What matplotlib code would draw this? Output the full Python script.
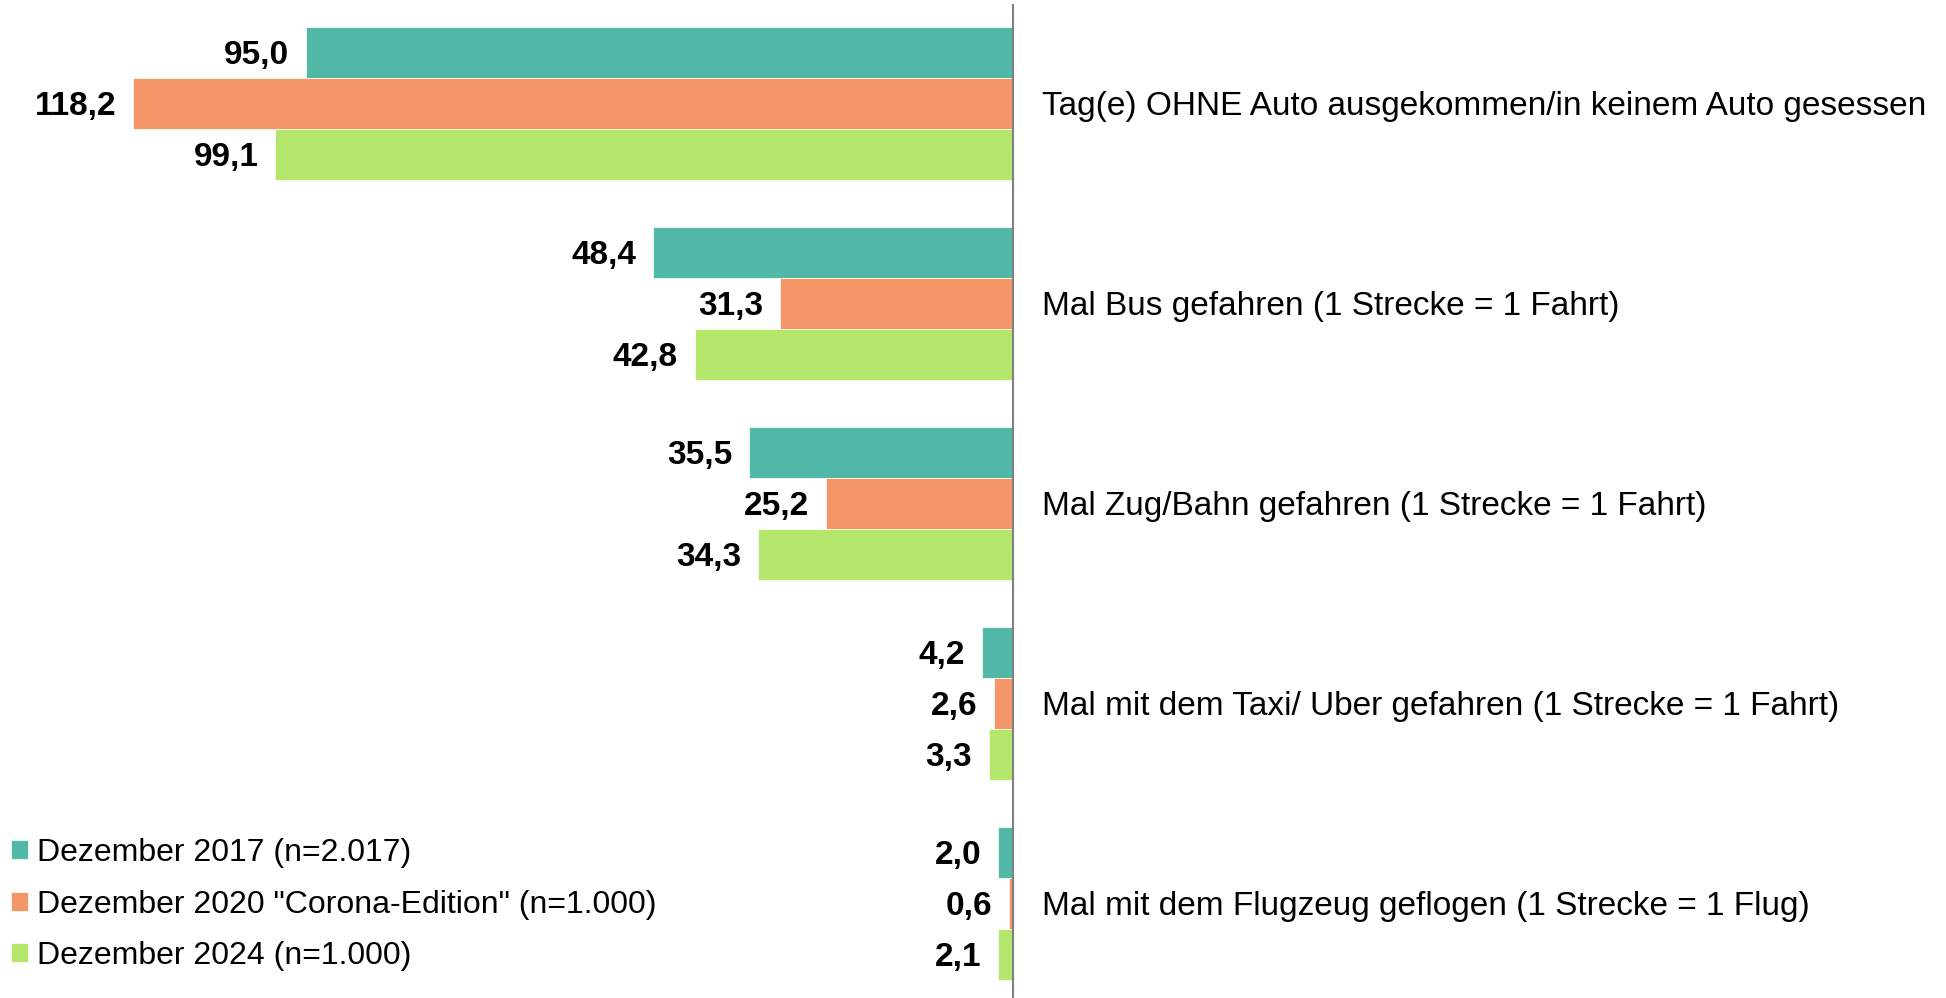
import matplotlib
matplotlib.use('Agg')
import matplotlib.pyplot as plt
import numpy as np

categories = ['Tag(e) OHNE Auto ausgekommen/in keinem Auto gesessen',
              'Mal Bus gefahren (1 Strecke = 1 Fahrt)',
              'Mal Zug/Bahn gefahren (1 Strecke = 1 Fahrt)',
              'Mal mit dem Taxi/ Uber gefahren (1 Strecke = 1 Fahrt)',
              'Mal mit dem Flugzeug geflogen (1 Strecke = 1 Flug)']
series = ['Dezember 2017 (n=2.017)',
          'Dezember 2020 "Corona-Edition" (n=1.000)',
          'Dezember 2024 (n=1.000)']
v2017 = [95.0, 48.4, 35.5, 4.2, 2.0]
v2020 = [118.2, 31.3, 25.2, 2.6, 0.6]
v2024 = [99.1, 42.8, 34.3, 3.3, 2.1]
colors = ['#52b9a9', '#f59668', '#b3e66a']

plt.rcParams['font.family'] = 'Liberation Sans'

fig = plt.figure(figsize=(19.46, 9.98), dpi=100)
ax = fig.add_axes([0, 0, 1, 994 / 998])

y = np.arange(len(categories))
h = 0.255
for i, vals in enumerate([v2017, v2020, v2024]):
    pos = y + (i - 1) * h
    ax.barh(pos, [-v for v in vals], height=h, color=colors[i],
            edgecolor='white', linewidth=0.5, label=series[i])
    for p, v in zip(pos, vals):
        ax.annotate(f'{v:.1f}'.replace('.', ','), (-v, p), xytext=(-12, -2.5),
                    textcoords='offset points', ha='right', va='center',
                    fontsize=24, fontweight='bold')

for p, c in zip(y, categories):
    ax.annotate(c, (0, p), xytext=(21, -2.5), textcoords='offset points',
                ha='left', va='center', fontsize=24)

ax.axvline(0, color='#808080', lw=1.5)
ax.set_xlim(-136.1, 125.3)
ax.set_ylim(4.4725, -0.4975)
ax.axis('off')

ax.legend(loc='center left', bbox_to_anchor=(11 / 1946, 0.0935),
          bbox_transform=fig.transFigure, frameon=False, fontsize=23,
          handlelength=0.54, handleheight=0.54, handletextpad=0.26,
          labelspacing=0.67, borderpad=0, borderaxespad=0)

fig.savefig('out.png', dpi=100)
